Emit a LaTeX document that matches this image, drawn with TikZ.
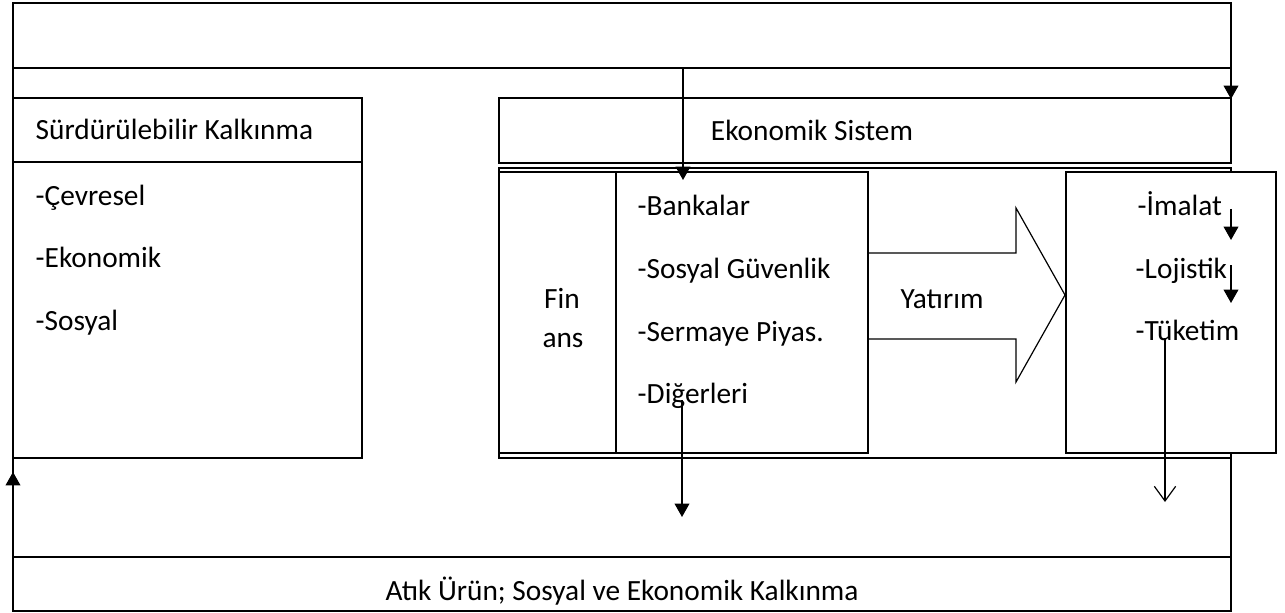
\documentclass[tikz,border=0pt]{standalone}
\usepackage{fontspec}
\setmainfont{Carlito}
\usetikzlibrary{arrows.meta}

\begin{document}
\begin{tikzpicture}[x=0.75pt,y=-0.75pt,line width=1.1pt,
    every node/.style={font=\fontsize{22}{26}\selectfont, inner sep=0pt},
    item/.style={anchor=base west},
    title/.style={anchor=base},
    solid tip/.style={-{Triangle[width=11pt,length=10pt]}},
    open tip/.style={line width=0.9pt,-{Straight Barb[width=16pt,length=11pt]}}]
    \useasboundingbox (0,0) rectangle (1285,613);

    % frame
    \draw (13,3) rectangle (1231,68);
    \draw (13,557) rectangle (1231,611);
    \draw (13,68) -- (13,557);
    \draw (1231,458) -- (1231,557);

    % Surdurulebilir Kalkinma
    \draw (13,98) rectangle (362,458);
    \draw (13,162) -- (362,162);
    \node[item] (surd) at (35,140) {Sürdürülebilir Kalkınma};
    \node[item] (cevre) at (35,205) {-Çevresel};
    \node[item] (ekon) at (35,267) {-Ekonomik};
    \node[item] (sosyal) at (35,330) {-Sosyal};

    % Ekonomik Sistem
    \draw (499,98) rectangle (1231,163);
    \node[title] (ekosis) at (812,141) {Ekonomik Sistem};
    \draw (499,168) rectangle (1231,458);
    \draw[fill=white] (499,172) rectangle (616,453);
    \draw[fill=white] (616,172) rectangle (868,453);
    \draw[fill=white] (1066,172) rectangle (1276,453);

    \node[title] (fin) at (562,308) {Fin};
    \node[title] (ans) at (563,347) {ans};
    \node[item] (banka) at (637,215) {-Bankalar};
    \node[item] (guven) at (637,278) {-Sosyal Güvenlik};
    \node[item] (piyas) at (637,341) {-Sermaye Piyas.};
    \node[item] (diger) at (637,403) {-Diğerleri};

    \draw[line width=0.9pt] (868,253) -- (1016,253) -- (1016,208) -- (1065,295)
        -- (1016,382) -- (1016,339) -- (868,339);
    \node[title] (yatirim) at (942,308) {Yatırım};

    \node[item] (imalat) at (1137,215) {-İmalat};
    \node[item] (lojis) at (1135,278) {-Lojistik};
    \node[item] (tuket) at (1135,340) {-Tüketim};

    \node[title] (atik) at (622,600) {Atık Ürün; Sosyal ve Ekonomik Kalkınma};

    % arrows
    \coordinate (top-a) at (683,68);
    \coordinate (bank-in) at (683,180);
    \coordinate (top-b) at (1231,68);
    \coordinate (eko-in) at (1231,99);
    \coordinate (imal-s) at (1231,209);
    \coordinate (imal-e) at (1231,240);
    \coordinate (lojis-s) at (1231,265);
    \coordinate (lojis-e) at (1231,303);
    \coordinate (tuket-s) at (1165,338);
    \coordinate (tuket-e) at (1165,502);
    \coordinate (diger-s) at (682,400);
    \coordinate (diger-e) at (682,517);
    \coordinate (atik-s) at (13,535);
    \coordinate (surd-in) at (13,472);

    \draw[solid tip] (top-a) -- (bank-in);
    \draw[solid tip] (top-b) -- (eko-in);
    \draw[solid tip] (imal-s) -- (imal-e);
    \draw[solid tip] (lojis-s) -- (lojis-e);
    \draw[open tip] (tuket-s) -- (tuket-e);
    \draw[solid tip] (diger-s) -- (diger-e);
    \draw[solid tip] (atik-s) -- (surd-in);
\end{tikzpicture}
\end{document}
